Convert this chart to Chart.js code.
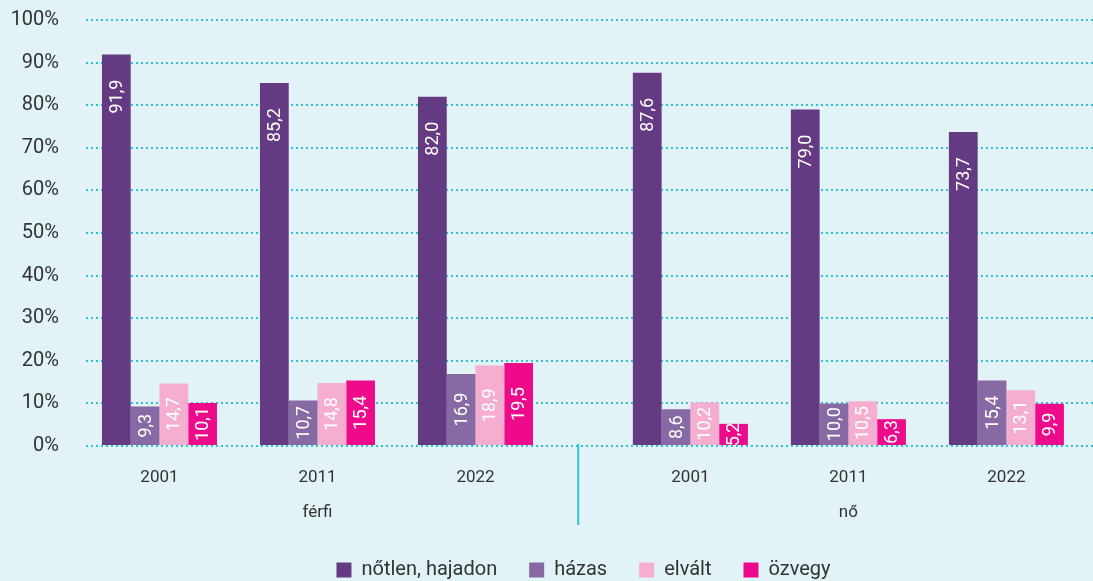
<!DOCTYPE html>
<html>
<head>
<meta charset="utf-8">
<script src="https://cdn.jsdelivr.net/npm/chart.js@4.4.0/dist/chart.umd.min.js"></script>
<style>
  html, body { margin: 0; padding: 0; background: #e1f3f6; }
  #wrap { width: 1093px; height: 581px; }
</style>
</head>
<body>
<div id="wrap"><canvas id="myChart" width="1093" height="581"></canvas></div>
<script>
// data
var years = ["2001", "2011", "2022", "2001", "2011", "2022"];
var sexLabels = ["férfi", "nő"];
var seriesNames = ["nőtlen, hajadon", "házas", "elvált", "özvegy"];
var notlen = [91.9, 85.2, 82.0, 87.6, 79.0, 73.7];
var hazas = [9.3, 10.7, 16.9, 8.6, 10.0, 15.4];
var elvalt = [14.7, 14.8, 18.9, 10.2, 10.5, 13.1];
var ozvegy = [10.1, 15.4, 19.5, 5.2, 6.3, 9.9];
var yTicks = [0, 10, 20, 30, 40, 50, 60, 70, 80, 90, 100];

// layout: where the groups sit on the x axis (wider gap between the two sexes)
var groupX = [0, 1, 2, 3.36, 4.36, 5.36];
var splitX = 2.65;
var colors = ["#643a82", "#8769a3", "#f5aed0", "#ed0b8c"];

function fmt(v) {
  return v.toFixed(1).replace(".", ",");
}

function toPoints(arr) {
  return arr.map(function (v, i) {
    return { x: groupX[i], y: v };
  });
}

var barLabels = {
  id: "barLabels",
  afterDatasetsDraw: function (chart) {
    var ctx = chart.ctx;
    ctx.save();
    ctx.fillStyle = "#ffffff";
    ctx.font = "18px Roboto";
    ctx.textAlign = "center";
    ctx.textBaseline = "middle";
    chart.data.datasets.forEach(function (ds, di) {
      var meta = chart.getDatasetMeta(di);
      meta.data.forEach(function (bar, i) {
        var cy = Math.min((bar.y + bar.base) / 2, bar.y + 42);
        ctx.save();
        ctx.translate(bar.x, cy);
        ctx.rotate(-Math.PI / 2);
        ctx.fillText(fmt(ds.data[i].y), 0, 1);
        ctx.restore();
      });
    });
    ctx.restore();
  },
};

var separator = {
  id: "separator",
  afterLayout: function (chart) {
    // push the legend a bit lower and to the right like in the original
    if (chart.legend) {
      chart.legend.top += 9;
      chart.legend.bottom += 9;
      chart.legend.left += 37;
      chart.legend.right += 37;
    }
  },
  afterDraw: function (chart) {
    var ctx = chart.ctx;
    var x = chart.scales.x.getPixelForValue(splitX);
    ctx.save();
    ctx.strokeStyle = "#2ec3d3";
    ctx.lineWidth = 2;
    ctx.beginPath();
    ctx.moveTo(x, chart.chartArea.bottom - 2);
    ctx.lineTo(x, 525);
    ctx.stroke();
    ctx.restore();
  },
};

var allSeries = [notlen, hazas, elvalt, ozvegy];
var datasets = allSeries.map(function (arr, k) {
  return {
    label: seriesNames[k],
    data: toPoints(arr),
    backgroundColor: colors[k],
    borderWidth: 0,
    categoryPercentage: 0.728,
    barPercentage: 1.0,
  };
});

const ctx = document.getElementById("myChart");

new Chart(ctx, {
  type: "bar",
  data: { datasets: datasets },
  plugins: [barLabels, separator],
  options: {
    responsive: false,
    animation: false,
    layout: { padding: 0 },
    plugins: {
      tooltip: { enabled: false },
      legend: {
        position: "bottom",
        labels: {
          boxWidth: 15,
          boxHeight: 15,
          padding: 32,
          color: "#333333",
          font: { family: "Roboto", size: 20 },
        },
      },
    },
    scales: {
      x: {
        type: "linear",
        min: -0.465,
        max: 5.908,
        offset: false,
        grid: { display: false, drawTicks: false },
        border: { display: false },
        afterBuildTicks: function (scale) {
          scale.ticks = groupX.map(function (v) {
            return { value: v };
          });
        },
        afterFit: function (scale) {
          scale.height = 73;
        },
        ticks: {
          autoSkip: false,
          maxRotation: 0,
          padding: 14,
          color: "#333333",
          font: { family: "Roboto", size: 17, lineHeight: 2.05 },
          callback: function (value, index) {
            if (index === 1) return [years[index], sexLabels[0]];
            if (index === 4) return [years[index], sexLabels[1]];
            return years[index];
          },
        },
      },
      y: {
        min: 0,
        max: 100,
        afterBuildTicks: function (scale) {
          scale.ticks = yTicks.map(function (v) {
            return { value: v };
          });
        },
        afterFit: function (scale) {
          scale.width = 86;
          scale.paddingTop = 20;
          scale.paddingBottom = 0;
        },
        grid: {
          color: "#2ec3d3",
          lineWidth: 2,
          drawTicks: false,
        },
        border: { display: false, dash: [2, 3] },
        ticks: {
          padding: 27,
          color: "#333333",
          font: { family: "Roboto", size: 20 },
          callback: function (v) {
            return v + "%";
          },
        },
      },
    },
  },
});
</script>
</body>
</html>
